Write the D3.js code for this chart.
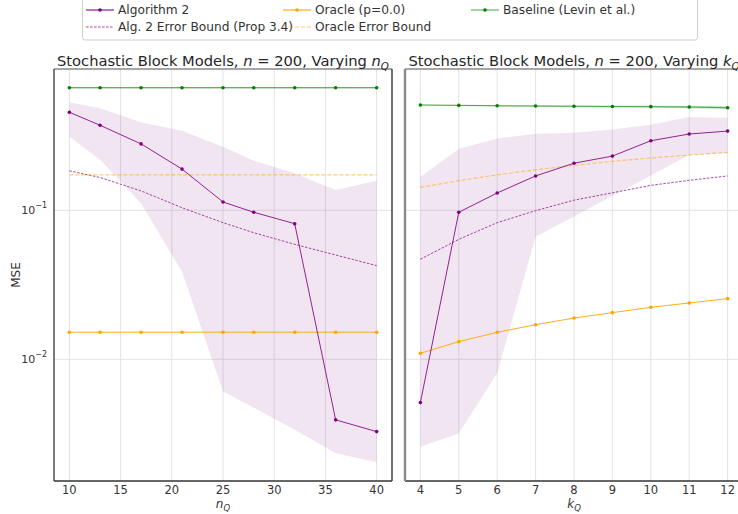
<!DOCTYPE html>
<html>
<head>
<meta charset="utf-8">
<script src="https://cdn.jsdelivr.net/npm/d3@7"></script>
<style>
  html, body { margin: 0; padding: 0; background: #fff; }
  svg { display: block; font-family: "DejaVu Sans", sans-serif; }
</style>
</head>
<body>
<svg id="chart" width="738" height="514"></svg>
<script>
// ---- data: varying n_Q ----
const nQ = [10, 13, 17, 21, 25, 28, 32, 36, 40];
const alg2N = [0.455, 0.372, 0.279, 0.189, 0.1137, 0.0970, 0.0813, 0.00392, 0.00327];
const alg2LoN = [0.312, 0.218, 0.111, 0.0387, 0.00607, 0.00473, 0.00336, 0.00234, 0.00204];
const alg2HiN = [0.531, 0.484, 0.390, 0.342, 0.267, 0.215, 0.177, 0.137, 0.158];
const boundN = [0.184, 0.166, 0.135, 0.104, 0.0826, 0.0707, 0.0591, 0.0501, 0.0425];
const oracleN = [0.0152, 0.0152, 0.0152, 0.0152, 0.0152, 0.0152, 0.0152, 0.0152, 0.0152];
const oracleBoundN = [0.173, 0.173, 0.173, 0.173, 0.173, 0.173, 0.173, 0.173, 0.173];
const baselineN = [0.665, 0.665, 0.665, 0.665, 0.665, 0.665, 0.665, 0.665, 0.665];
const baselineLoN = [0.658, 0.658, 0.658, 0.658, 0.658, 0.658, 0.658, 0.658, 0.658];
const baselineHiN = [0.672, 0.672, 0.672, 0.672, 0.672, 0.672, 0.672, 0.672, 0.672];

// ---- data: varying k_Q ----
const kQ = [4, 5, 6, 7, 8, 9, 10, 11, 12];
const alg2K = [0.00512, 0.0970, 0.1306, 0.170, 0.207, 0.231, 0.293, 0.325, 0.340];
const alg2LoK = [0.00259, 0.00318, 0.00805, 0.0665, 0.091, 0.125, 0.171, 0.2346, 0.2415];
const alg2HiK = [0.168, 0.258, 0.303, 0.327, 0.332, 0.348, 0.375, 0.422, 0.418];
const boundK = [0.0469, 0.0638, 0.0826, 0.0994, 0.117, 0.131, 0.147, 0.159, 0.170];
const oracleK = [0.01097, 0.01313, 0.01517, 0.01706, 0.01892, 0.02055, 0.02233, 0.02387, 0.02553];
const oracleBoundK = [0.1425, 0.158, 0.173, 0.187, 0.2003, 0.213, 0.2245, 0.2346, 0.245];
const baselineK = [0.509, 0.506, 0.503, 0.501, 0.499, 0.497, 0.496, 0.493, 0.488];
const baselineLoK = [0.505, 0.501, 0.498, 0.495, 0.492, 0.490, 0.488, 0.484, 0.478];
const baselineHiK = [0.513, 0.511, 0.508, 0.507, 0.506, 0.505, 0.504, 0.503, 0.499];

// ---- ticks and labels ----
const xTicksN = [10, 15, 20, 25, 30, 35, 40];
const xTicksK = [4, 5, 6, 7, 8, 9, 10, 11, 12];
const yTicks = [0.01, 0.1];
const yDomain = [0.001524, 0.8878];

const legendItems = [
  { label: "Algorithm 2", color: "#800080", dash: null, marker: true, opacity: 0.9, col: 0, row: 0 },
  { label: "Alg. 2 Error Bound (Prop 3.4)", color: "#800080", dash: "2.5,1.5", marker: false, opacity: 0.7, col: 0, row: 1 },
  { label: "Oracle (p=0.0)", color: "#FFA500", dash: null, marker: true, opacity: 0.9, col: 1, row: 0 },
  { label: "Oracle Error Bound", color: "#FFA500", dash: "4,2", marker: false, opacity: 0.55, col: 1, row: 1 },
  { label: "Baseline (Levin et al.)", color: "#008000", dash: null, marker: true, opacity: 0.6, col: 2, row: 0 }
];

const COLORS = { alg2: "#800080", oracle: "#FFA500", base: "#008000" };

const svg = d3.select("#chart");
const plotTop = 69, plotBottom = 481;

function panel(opts) {
  const { x0, x1, xs, xDomain, xTicks, series, showY, xLabelVar, titleVar } = opts;
  const x = d3.scaleLinear().domain(xDomain).range([x0, x1]);
  const y = d3.scaleLog().domain(yDomain).range([plotBottom, plotTop]);
  const g = svg.append("g");

  const clipId = "clip" + x0;
  svg.append("clipPath").attr("id", clipId)
    .append("rect").attr("x", x0).attr("y", plotTop).attr("width", x1 - x0).attr("height", plotBottom - plotTop);

  // grid
  g.append("g").selectAll("line").data(xTicks).join("line")
    .attr("x1", d => x(d)).attr("x2", d => x(d)).attr("y1", plotTop).attr("y2", plotBottom)
    .attr("stroke", "#e3e3e6").attr("stroke-width", 1);
  g.append("g").selectAll("line").data(yTicks).join("line")
    .attr("x1", x0).attr("x2", x1).attr("y1", d => y(d)).attr("y2", d => y(d))
    .attr("stroke", "#e3e3e6").attr("stroke-width", 1);

  const plot = g.append("g").attr("clip-path", `url(#${clipId})`);
  const pts = (vals) => vals.map((v, i) => [xs[i], v]);
  const line = d3.line().x(d => x(d[0])).y(d => y(d[1]));
  const area = d3.area().x((d, i) => x(xs[i])).y0(d => y(d[0])).y1(d => y(d[1]));

  // uncertainty bands
  plot.append("path").datum(series.baseLo.map((v, i) => [v, series.baseHi[i]]))
    .attr("d", area).attr("fill", COLORS.base).attr("fill-opacity", 0.25);
  plot.append("path").datum(series.alg2Lo.map((v, i) => [v, series.alg2Hi[i]]))
    .attr("d", area).attr("fill", COLORS.alg2).attr("fill-opacity", 0.1);

  // bounds
  plot.append("path").datum(pts(series.bound)).attr("d", line)
    .attr("fill", "none").attr("stroke", COLORS.alg2).attr("stroke-opacity", 0.7)
    .attr("stroke-width", 1).attr("stroke-dasharray", "2.5,1.5");
  plot.append("path").datum(pts(series.oracleBound)).attr("d", line)
    .attr("fill", "none").attr("stroke", COLORS.oracle).attr("stroke-opacity", 0.55)
    .attr("stroke-width", 1.2).attr("stroke-dasharray", "4,2");

  // solid lines with markers
  const solid = [
    { vals: series.base, color: COLORS.base, op: 0.6 },
    { vals: series.oracle, color: COLORS.oracle, op: 0.9 },
    { vals: series.alg2, color: COLORS.alg2, op: 0.85 }
  ];
  solid.forEach(s => {
    plot.append("path").datum(pts(s.vals)).attr("d", line)
      .attr("fill", "none").attr("stroke", s.color).attr("stroke-opacity", s.op).attr("stroke-width", 1);
    plot.append("g").selectAll("circle").data(pts(s.vals)).join("circle")
      .attr("cx", d => x(d[0])).attr("cy", d => y(d[1])).attr("r", 1.8)
      .attr("fill", s.color);
  });

  // frame
  const frame = g.append("g").attr("fill", "none");
  frame.append("line").attr("x1", x0).attr("x2", x1).attr("y1", plotTop).attr("y2", plotTop)
    .attr("stroke", "#8a8a8a").attr("stroke-width", 1.6);
  frame.append("line").attr("x1", x0).attr("x2", x1).attr("y1", plotBottom).attr("y2", plotBottom)
    .attr("stroke", "#333").attr("stroke-width", 1.4);
  frame.append("line").attr("x1", x0).attr("x2", x0).attr("y1", plotTop).attr("y2", plotBottom)
    .attr("stroke", opts.leftSpine).attr("stroke-width", opts.leftSpineW);
  frame.append("line").attr("x1", x1).attr("x2", x1).attr("y1", plotTop).attr("y2", plotBottom)
    .attr("stroke", "#333").attr("stroke-width", 1.4);

  // x tick labels
  g.append("g").selectAll("text").data(xTicks).join("text")
    .attr("x", d => x(d)).attr("y", plotBottom + 13).attr("text-anchor", "middle")
    .attr("font-size", 11.5).attr("fill", "#333").text(d => d);

  // x axis label
  const xl = g.append("text").attr("x", (x0 + x1) / 2).attr("y", plotBottom + 26.5)
    .attr("text-anchor", "middle").attr("font-size", 12).attr("fill", "#333");
  xl.append("tspan").attr("font-style", "italic").text(xLabelVar);
  xl.append("tspan").attr("font-style", "italic").attr("font-size", 8.5).attr("dy", 3).text("Q");

  // y ticks
  if (showY) {
    const yt = g.append("g").selectAll("text").data(yTicks).join("text")
      .attr("x", x0 - 7).attr("y", d => y(d) + 4).attr("text-anchor", "end")
      .attr("font-size", 11).attr("fill", "#333");
    yt.append("tspan").text("10");
    yt.append("tspan").attr("font-size", 8).attr("dy", -6).text(d => "\u2212" + Math.round(-Math.log10(d)));
    g.append("text").attr("transform", `translate(20,${(plotTop + plotBottom) / 2}) rotate(-90)`)
      .attr("text-anchor", "middle").attr("font-size", 12).attr("fill", "#333").text("MSE");
  }

  // title
  const t = g.append("text").attr("x", (x0 + x1) / 2).attr("y", 66)
    .attr("text-anchor", "middle").attr("font-size", 14.7).attr("fill", "#262626");
  t.append("tspan").text("Stochastic Block Models, ");
  t.append("tspan").attr("font-style", "italic").text("n");
  t.append("tspan").text(" = 200, Varying ");
  t.append("tspan").attr("font-style", "italic").text(titleVar);
  t.append("tspan").attr("font-style", "italic").attr("font-size", 10.3).attr("dy", 3.5).text("Q");
}

panel({
  x0: 54, x1: 392, xs: nQ, xDomain: [8.5, 41.5], xTicks: xTicksN, showY: true,
  xLabelVar: "n", titleVar: "n", leftSpine: "#444", leftSpineW: 1.4,
  series: { alg2: alg2N, alg2Lo: alg2LoN, alg2Hi: alg2HiN, bound: boundN, oracle: oracleN,
            oracleBound: oracleBoundN, base: baselineN, baseLo: baselineLoN, baseHi: baselineHiN }
});
panel({
  x0: 405, x1: 743, xs: kQ, xDomain: [3.6, 12.4], xTicks: xTicksK, showY: false,
  xLabelVar: "k", titleVar: "k", leftSpine: "#8a8a8a", leftSpineW: 2.4,
  series: { alg2: alg2K, alg2Lo: alg2LoK, alg2Hi: alg2HiK, bound: boundK, oracle: oracleK,
            oracleBound: oracleBoundK, base: baselineK, baseLo: baselineLoK, baseHi: baselineHiK }
});

// legend
const lg = svg.append("g");
lg.append("rect").attr("x", 82.5).attr("y", -3).attr("width", 615).attr("height", 43).attr("rx", 2.5)
  .attr("fill", "#fff").attr("stroke", "#cfcfcf").attr("stroke-width", 1);
const colX = [86, 283, 471];
const rowY = [10, 27];
legendItems.forEach(it => {
  const hx = colX[it.col], hy = rowY[it.row];
  lg.append("line").attr("x1", hx).attr("x2", hx + 28).attr("y1", hy).attr("y2", hy)
    .attr("stroke", it.color).attr("stroke-opacity", it.opacity).attr("stroke-width", it.dash ? 1.1 : 1.2)
    .attr("stroke-dasharray", it.dash);
  if (it.marker) lg.append("circle").attr("cx", hx + 14).attr("cy", hy).attr("r", 1.8).attr("fill", it.color);
  lg.append("text").attr("x", hx + 32).attr("y", hy + 4.3).attr("font-size", 12.2).attr("fill", "#333").text(it.label);
});
</script>
</body>
</html>
